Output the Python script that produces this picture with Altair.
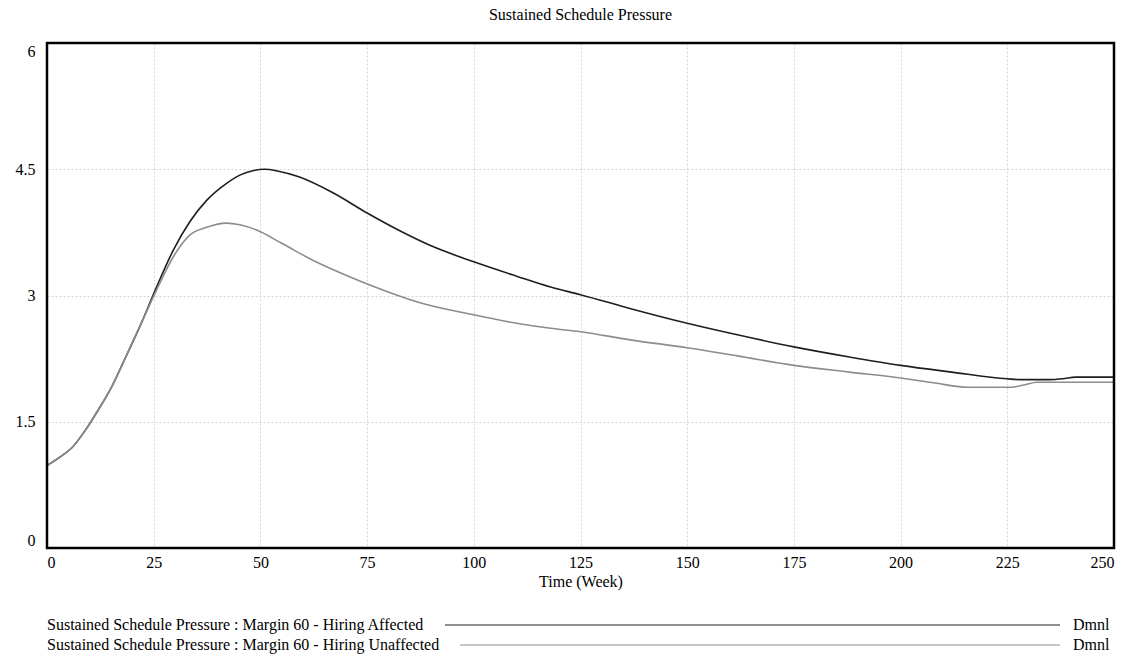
import altair as alt
import pandas as pd

# ---- data ----
series_names = [
    "Sustained Schedule Pressure : Margin 60 - Hiring Affected",
    "Sustained Schedule Pressure : Margin 60 - Hiring Unaffected",
]
units = ["Dmnl", "Dmnl"]
series_colors = ["#1e1e1e", "#8c8c8c"]

t_affected = [0, 3, 6, 9, 12, 15, 18, 22, 26, 29.6, 33.5, 37.4, 42, 45.2, 48, 51, 54, 59, 67, 75, 83, 90,
              100, 110, 118, 125, 137, 150, 162, 175, 188, 200, 212, 225, 228, 235, 238, 241, 250]
v_affected = [0.98, 1.08, 1.20, 1.40, 1.64, 1.90, 2.22, 2.66, 3.14, 3.54, 3.88, 4.13, 4.33, 4.43, 4.48,
              4.50, 4.48, 4.41, 4.22, 3.98, 3.76, 3.59, 3.40, 3.23, 3.10, 3.01, 2.84, 2.67, 2.53, 2.39,
              2.27, 2.17, 2.09, 2.01, 2.00, 2.00, 2.01, 2.03, 2.03]

t_unaffected = [0, 3, 6, 9, 12, 15, 18, 22, 26, 29.6, 33.5, 37.4, 42, 45.2, 49, 55, 63, 71, 79, 87,
                100, 110, 118, 125, 137, 150, 162, 175, 188, 200, 208, 216, 226, 229, 232, 250]
v_unaffected = [0.98, 1.08, 1.20, 1.40, 1.64, 1.90, 2.22, 2.66, 3.10, 3.46, 3.72, 3.81, 3.86, 3.84,
                3.78, 3.62, 3.40, 3.22, 3.06, 2.92, 2.77, 2.67, 2.61, 2.57, 2.47, 2.38, 2.28, 2.17,
                2.09, 2.02, 1.96, 1.91, 1.91, 1.94, 1.97, 1.97]

x_ticks = [0, 25, 50, 75, 100, 125, 150, 175, 200, 225, 250]
y_ticks = [0, 1.5, 3, 4.5, 6]

FONT = "Liberation Serif"
FS = 16
W, H = 1067, 505

df = pd.concat([
    pd.DataFrame({"t": t_affected, "v": v_affected, "series": series_names[0]}),
    pd.DataFrame({"t": t_unaffected, "v": v_unaffected, "series": series_names[1]}),
])

lines = alt.Chart(df).mark_line(interpolate="monotone", strokeWidth=1.6).encode(
    x=alt.X("t:Q", scale=alt.Scale(domain=[0, 250], nice=False, zero=False),
            axis=alt.Axis(values=x_ticks, title="Time (Week)", labelPadding=6, titlePadding=3,
                          labelFont=FONT, labelFontSize=FS, titleFont=FONT, titleFontSize=FS)),
    y=alt.Y("v:Q", scale=alt.Scale(domain=[0, 6], nice=False),
            axis=alt.Axis(values=y_ticks, title=None, labelExpr="'' + datum.value",
                          labelFlush=True, labelFlushOffset=0, labelPadding=12,
                          labelFont=FONT, labelFontSize=FS)),
    color=alt.Color("series:N", scale=alt.Scale(domain=series_names, range=series_colors), legend=None),
    order=alt.Order("t:Q"),
)

one = pd.DataFrame({"a": [0]})

frame = alt.Chart(one).mark_rect(fill=None, stroke="black", strokeWidth=2.5).encode(
    x=alt.value(0), x2=alt.value(W), y=alt.value(0), y2=alt.value(H)
)

legend_layers = []
legend_line_start = [398, 413]
for i, (name, unit, col) in enumerate(zip(series_names, units, series_colors)):
    y = 582 + 20 * i
    legend_layers.append(
        alt.Chart(one).mark_text(align="left", baseline="middle", font=FONT, fontSize=FS, color="black")
        .encode(x=alt.value(0), y=alt.value(y), text=alt.value(name))
    )
    legend_layers.append(
        alt.Chart(one).mark_rule(color=col, strokeWidth=1.2)
        .encode(x=alt.value(legend_line_start[i]), x2=alt.value(1013), y=alt.value(y))
    )
    legend_layers.append(
        alt.Chart(one).mark_text(align="left", baseline="middle", font=FONT, fontSize=FS, color="black")
        .encode(x=alt.value(1026), y=alt.value(y), text=alt.value(unit))
    )

chart = alt.layer(lines, frame, *legend_layers).properties(
    width=W,
    height=H,
    background="white",
    autosize=alt.AutoSizeParams(type="none"),
    padding={"left": 47, "top": 43, "right": 24, "bottom": 113},
    title=alt.TitleParams("Sustained Schedule Pressure", font=FONT, fontSize=FS, fontWeight="normal",
                          anchor="middle", offset=19, color="black"),
).configure(
    font=FONT
).configure_view(
    stroke=None
).configure_title(
    font=FONT, fontSize=FS, fontWeight="normal", color="black"
).configure_axis(
    labelFont=FONT, labelFontSize=FS, labelColor="black",
    titleFont=FONT, titleFontSize=FS, titleFontWeight="normal", titleColor="black",
    tickSize=0, domain=False, grid=True, gridColor="#d4d4d4", gridDash=[2, 2], gridWidth=1,
)

chart.save("out.html", embed_options={"renderer": "svg", "actions": False})
